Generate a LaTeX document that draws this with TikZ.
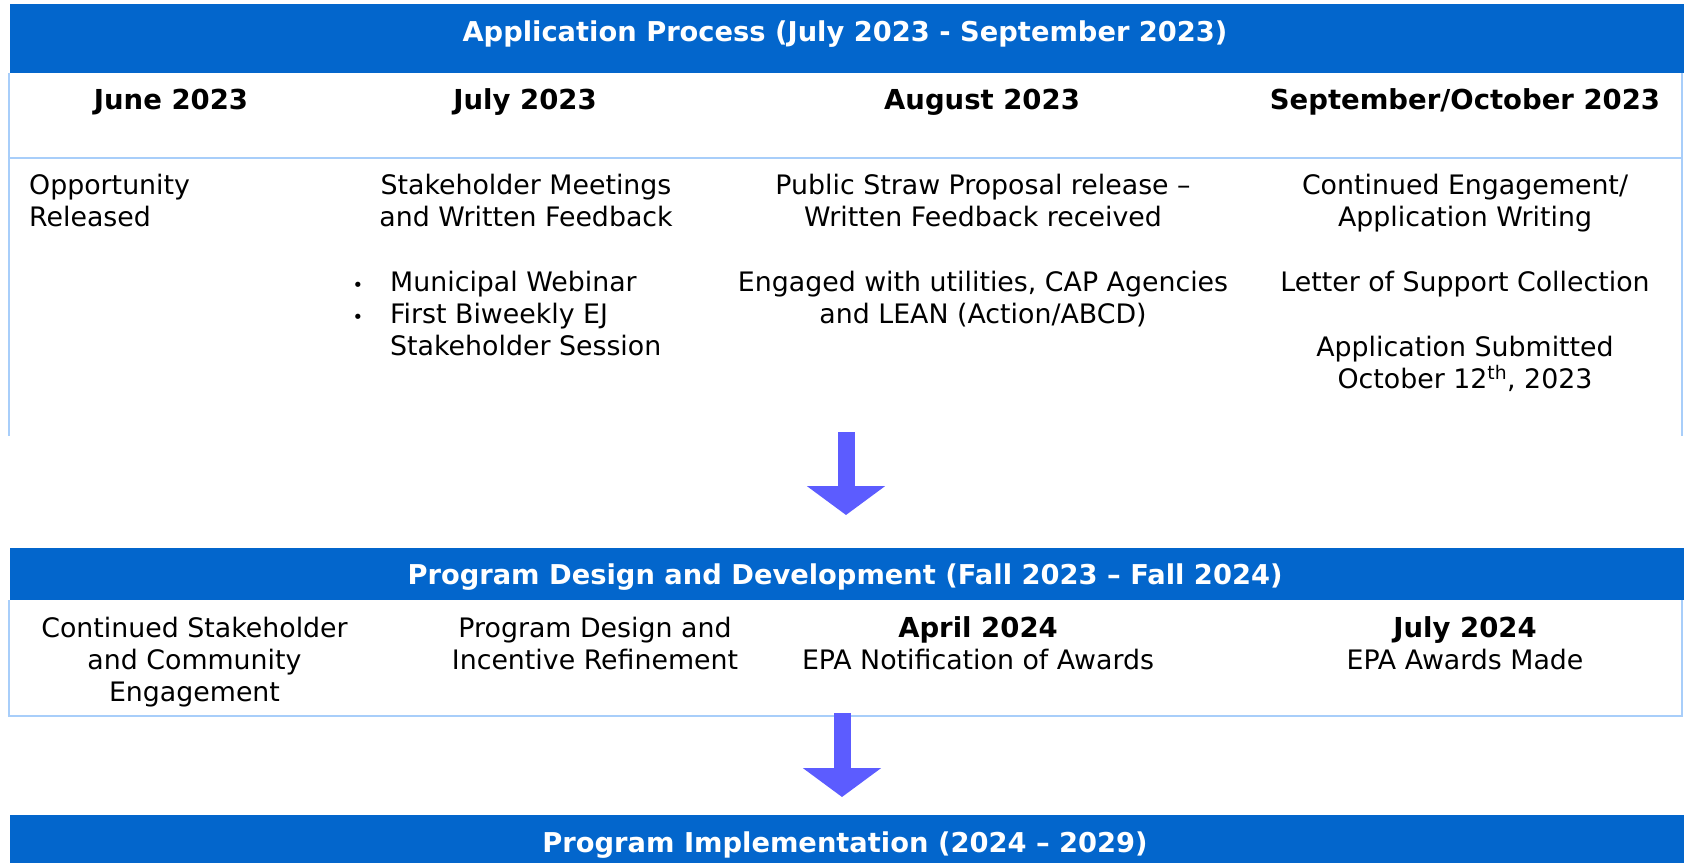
\documentclass[tikz,border=0pt]{standalone}
\usepackage{fontspec}
\setmainfont{DejaVu Sans}
\usetikzlibrary{arrows.meta}
\definecolor{hdrblue}{RGB}{3,102,204}
\definecolor{rulecol}{RGB}{168,206,250}
\definecolor{arrowblue}{RGB}{92,92,255}
\tikzset{
  hdrbox/.style={fill=hdrblue, draw=none, inner sep=0pt, anchor=north west},
  hdrtitle/.style={anchor=base, inner sep=0pt, text=white, font=\fontsize{27.3bp}{32bp}\selectfont\bfseries},
  month/.style={anchor=base, inner sep=0pt, font=\fontsize{27.5bp}{32bp}\selectfont\bfseries},
  body/.style={anchor=base, inner sep=0pt, font=\fontsize{26.8bp}{32bp}\selectfont},
  bodyleft/.style={anchor=base west, inner sep=0pt, font=\fontsize{26.8bp}{32bp}\selectfont},
  bulletmark/.style={anchor=base, inner sep=0pt, font=\fontsize{18bp}{32bp}\selectfont},
  rule/.style={draw=rulecol, line width=2bp},
  blockarrow/.style={draw=arrowblue, line width=17bp, -{Triangle[width=77bp,length=29bp]}},
}
\newcommand{\bb}[1]{{\fontsize{27.5bp}{32bp}\selectfont\bfseries #1}}
\newcommand{\ctext}[1]{\begin{tabular}[t]{@{}c@{}}#1\end{tabular}}
\newcommand{\ltext}[1]{\begin{tabular}[t]{@{}l@{}}#1\end{tabular}}
\begin{document}
\begin{tikzpicture}[x=1bp,y=-1bp]
\useasboundingbox (0,0) rectangle (1685,862);

% ---------- Section 1 ----------
\node[hdrbox, minimum width=1674bp, minimum height=68.5bp] (h1) at (10,4) {};
\node[hdrtitle] (t1) at (845,41) {Application Process (July 2023 - September 2023)};
\draw[rule] (9,72.5) -- (9,436);
\draw[rule] (1682,72.5) -- (1682,436);
\draw[rule] (9,157.5) -- (1682,157.5);

\node[month] (m1) at (171,109) {June 2023};
\node[month] (m2) at (525,109) {July 2023};
\node[month] (m3) at (982,109) {August 2023};
\node[month] (m4) at (1465,109) {September/October 2023};

\node[bodyleft] (c1a) at (29,194) {\ltext{Opportunity\\Released}};
\node[body] (c2a) at (526,194) {\ctext{Stakeholder Meetings\\and Written Feedback}};
\node[bulletmark] (b1) at (358,291.7) {•};
\node[bulletmark] (b2) at (358,323.7) {•};
\node[bodyleft] (c2b) at (390,291.7) {\ltext{Municipal Webinar\\First Biweekly EJ\\Stakeholder Session}};
\node[body] (c3a) at (983,194) {\ctext{Public Straw Proposal release –\\Written Feedback received}};
\node[body] (c3b) at (983,291) {\ctext{Engaged with utilities, CAP Agencies\\and LEAN (Action/ABCD)}};
\node[body] (c4a) at (1465,194) {\ctext{Continued Engagement/\\Application Writing}};
\node[body] (c4b) at (1465,291) {Letter of Support Collection};
\node[body] (c4c) at (1465,356) {\ctext{Application Submitted\\October 12\textsuperscript{th}, 2023}};

% arrow 1
\coordinate (a1s) at (846,432);
\coordinate (a1e) at (846,515);
\draw[blockarrow] (a1s) -- (a1e);

% ---------- Section 2 ----------
\node[hdrbox, minimum width=1674bp, minimum height=52bp] (h2) at (10,548) {};
\node[hdrtitle] (t2) at (845,584) {Program Design and Development (Fall 2023 – Fall 2024)};
\draw[rule] (9,600) -- (9,715.7) -- (1682,715.7) -- (1682,600);

\node[body] (d1) at (194.5,637) {\ctext{Continued Stakeholder\\and Community\\Engagement}};
\node[body] (d2) at (595,637) {\ctext{Program Design and\\Incentive Refinement}};
\node[body] (d3) at (978,637) {\ctext{\bb{April 2024}\\EPA Notification of Awards}};
\node[body] (d4) at (1465,637) {\ctext{\bb{July 2024}\\EPA Awards Made}};

% arrow 2
\coordinate (a2s) at (842,713);
\coordinate (a2e) at (842,797);
\draw[blockarrow] (a2s) -- (a2e);

% ---------- Section 3 ----------
\node[hdrbox, minimum width=1674bp, minimum height=48bp] (h3) at (10,815) {};
\node[hdrtitle] (t3) at (845,852) {Program Implementation (2024 – 2029)};
\end{tikzpicture}
\end{document}
